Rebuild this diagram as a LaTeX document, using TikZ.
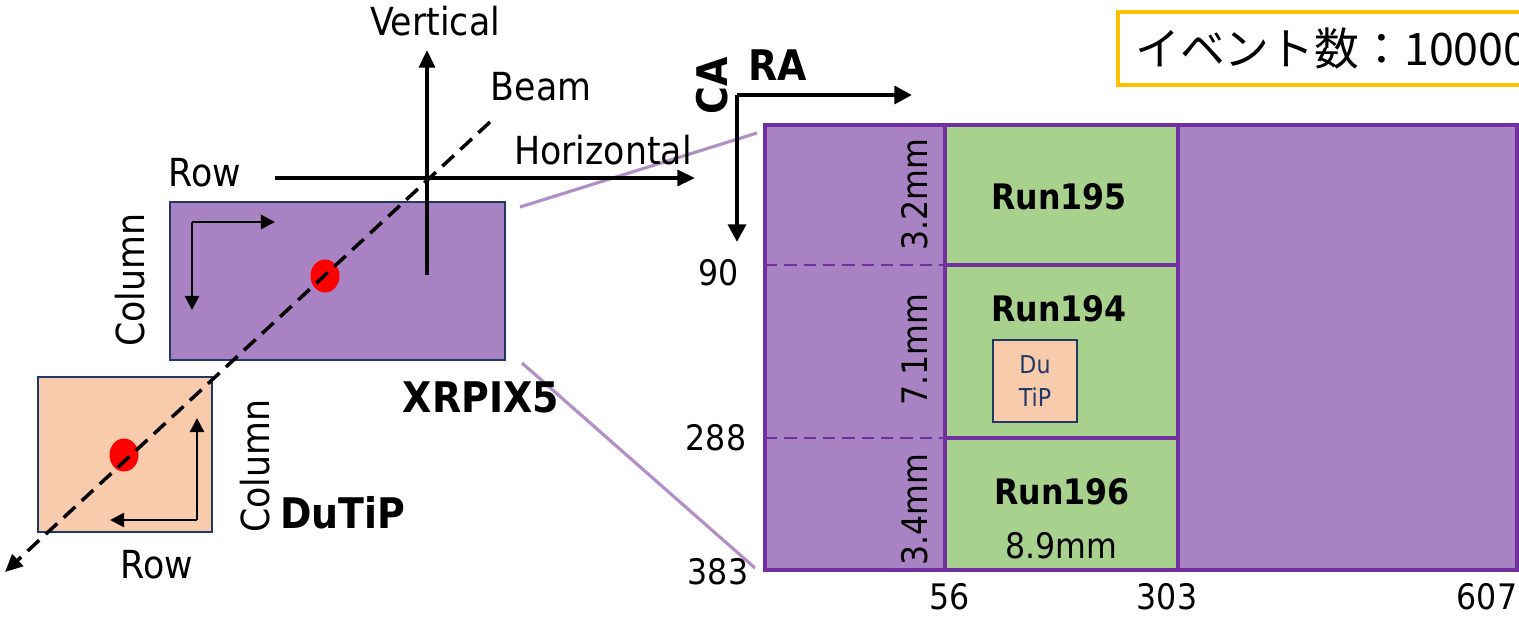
\documentclass[tikz,border=0pt]{standalone}
\usepackage{fontspec}
\setmainfont{DejaVu Sans Condensed}
\newfontfamily\jpfont{Noto Sans CJK JP}
\usetikzlibrary{arrows.meta}

\definecolor{chippurple}{HTML}{A882C2}
\definecolor{edgepurple}{HTML}{7030A0}
\definecolor{peach}{HTML}{F8CBAD}
\definecolor{navy}{HTML}{203864}
\definecolor{rungreen}{HTML}{A9D18E}
\definecolor{gold}{HTML}{FFC000}

\begin{document}
\begin{tikzpicture}[x=0.02cm, y=-0.02cm,
	lbl/.style={inner sep=0pt, font=\fontsize{22}{24}\selectfont},
	bold lbl/.style={inner sep=0pt, font=\fontsize{24}{26}\selectfont\bfseries},
	num/.style={inner sep=0pt, font=\fontsize{20}{22}\selectfont},
	axis/.style={line width=2pt, -{Triangle[length=10pt, width=9pt]}},
	small axis/.style={line width=1.4pt, -{Triangle[length=8pt, width=8pt]}},
	zoomline/.style={chippurple!90!white, line width=1.8pt},
	cell/.style={draw=edgepurple, line width=1.8pt}]

	\useasboundingbox (0,0) rectangle (1519,616);
	\clip (0,0) rectangle (1519,616);

	%zoom lines from the chip to the map
	\draw[zoomline] (520,207) -- (757,133);
	\draw[zoomline] (522,363) -- (755,568);

	%XRPIX5 chip (purple)
	\filldraw[fill=chippurple, draw=navy, line width=1.1pt] (170,202) rectangle (505,360);
	\coordinate (xcorner) at (192,222);
	\coordinate (xrow) at (275,222);
	\coordinate (xcol) at (192,310);
	\draw[small axis] (xcorner) -- (xrow);
	\draw[small axis] (xcorner) -- (xcol);
	\fill[red] (325,276) ellipse [x radius=0.29cm, y radius=0.33cm];
	\node[lbl, rotate=90] (xcolumn) at (130,280) {Column};
	\node[lbl] (xrowlbl) at (205,173) {Row};
	\node[bold lbl] (xrpix) at (481,397) {XRPIX5};

	%DuTiP chip (peach)
	\filldraw[fill=peach, draw=navy, line width=1.1pt] (38,377) rectangle (212,532);
	\coordinate (dcorner) at (197,520);
	\coordinate (dcol) at (197,418);
	\coordinate (drow) at (110,520);
	\draw[small axis] (dcorner) -- (dcol);
	\draw[small axis] (dcorner) -- (drow);
	\fill[red] (124,455) ellipse [x radius=0.29cm, y radius=0.33cm];
	\node[lbl, rotate=90] (dcolumn) at (255,466) {Column};
	\node[lbl] (drowlbl) at (157,565) {Row};
	\node[bold lbl] (dutip) at (343,513) {DuTiP};

	%beam and detector axes
	\coordinate (vtop) at (427,50);
	\coordinate (vbot) at (427,275);
	\coordinate (hleft) at (275,178);
	\coordinate (hright) at (695,178);
	\coordinate (btop) at (490,122);
	\coordinate (bbot) at (5,572);
	\draw[axis] (vbot) -- (vtop);
	\draw[axis] (hleft) -- (hright);
	\draw[line width=2pt, dash pattern=on 9pt off 5pt, -{Triangle[length=10pt, width=9pt]}] (btop) -- (bbot);
	\node[lbl] (vertical) at (435,21) {Vertical};
	\node[lbl] (horizontal) at (603,150) {Horizontal};
	\node[lbl] (beam) at (541,87) {Beam};

	%map of the XRPIX5 pixels
	\filldraw[cell, fill=chippurple] (765,125) rectangle (1517,570);
	\filldraw[cell, fill=rungreen] (945,125) rectangle (1178,570);
	\draw[cell] (945,265) -- (1178,265);
	\draw[cell] (945,438) -- (1178,438);
	\draw[cell, line width=1.6pt, dash pattern=on 7pt off 4pt] (765,265) -- (945,265);
	\draw[cell, line width=1.6pt, dash pattern=on 7pt off 4pt] (765,438) -- (945,438);

	\node[num, rotate=90] (h195) at (915,195) {3.2mm};
	\node[num, rotate=90] (h194) at (915,350) {7.1mm};
	\node[num, rotate=90] (h196) at (915,510) {3.4mm};
	\node[inner sep=0pt, font=\fontsize{20}{22}\selectfont\bfseries] (run195) at (1059,197) {Run195};
	\node[inner sep=0pt, font=\fontsize{20}{22}\selectfont\bfseries] (run194) at (1059,309) {Run194};
	\node[inner sep=0pt, font=\fontsize{20}{22}\selectfont\bfseries] (run196) at (1062,492) {Run196};
	\node[num] (width) at (1061,546) {8.9mm};

	%DuTiP position in the map
	\filldraw[fill=peach, draw=navy, line width=1.4pt] (993,340) rectangle (1077,422);
	\node[text=navy, align=center, inner sep=0pt, font=\fontsize{14}{19}\selectfont] (dsmall) at (1035,381) {Du\\TiP};

	%row and column numbers
	\node[num] (r90) at (719,273) {90};
	\node[num] (r288) at (716,438) {288};
	\node[num] (r383) at (718,572) {383};
	\node[num] (c56) at (950,597) {56};
	\node[num] (c303) at (1167,597) {303};
	\node[num] (c607) at (1487,597) {607};

	%RA and CA directions
	\coordinate (ocorner) at (737,95);
	\coordinate (ra) at (912,95);
	\coordinate (ca) at (737,242);
	\draw[line width=2.8pt, -{Triangle[length=10pt, width=10pt]}] (ocorner) -- (ra);
	\draw[line width=2.8pt, -{Triangle[length=10pt, width=10pt]}] (ocorner) -- (ca);
	\node[bold lbl] (ralbl) at (778,65) {RA};
	\node[bold lbl, rotate=90] (calbl) at (712,86) {CA};

	%number of events
	\draw[gold, line width=2.4pt] (1118,12) rectangle (1545,85);
	\node[anchor=west, inner sep=0pt, font=\jpfont\fontsize{25.5}{27}\selectfont] (events) at (1135,49) {イベント数：10000};
\end{tikzpicture}
\end{document}
